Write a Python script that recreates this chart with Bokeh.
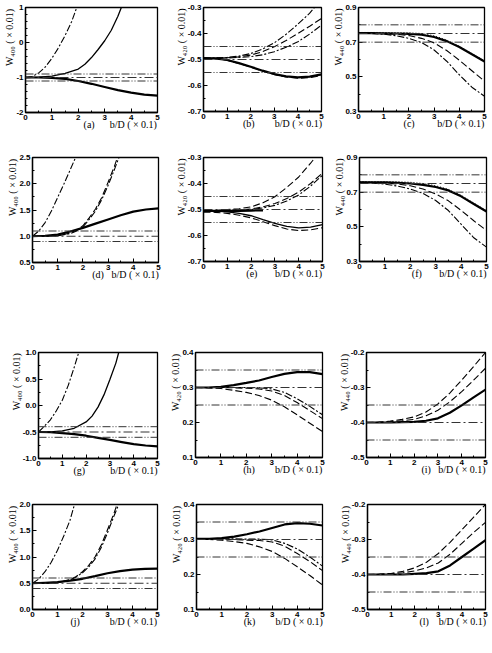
from bokeh.plotting import figure
from bokeh.layouts import column, row
from bokeh.models import FixedTicker, PrintfTickFormatter, Span
from bokeh.embed import file_html
from bokeh.resources import INLINE

# ---------------- data ----------------
X = [0, 0.5, 1, 1.5, 2, 2.5, 3, 3.5, 4, 4.5, 5]
x_ticks = [0, 1, 2, 3, 4, 5]
x_minor = [0.5, 1.5, 2.5, 3.5, 4.5]

# (a) W400
a_yrange = [-2, 1]
a_yticks = [-2, -1, 0, 1]
a_levels = [-0.9, -1.0, -1.1]
a_steep_x = [0, 0.25, 0.5, 0.75, 1.0, 1.25, 1.5, 1.75, 1.94]
a_steep_y = [-1.0, -0.97, -0.87, -0.7, -0.45, -0.15, 0.2, 0.6, 1.0]
a_rise_x = [0, 0.5, 1.0, 1.5, 2.0, 2.25, 2.5, 2.75, 3.0, 3.25, 3.5, 3.63]
a_rise_y = [-1.0, -0.99, -0.96, -0.88, -0.76, -0.62, -0.43, -0.2, 0.05, 0.35, 0.75, 1.0]
a_desc_y = [-1.0, -1.0, -1.01, -1.04, -1.1, -1.18, -1.27, -1.36, -1.43, -1.49, -1.52]

# (b) W420
b_yrange = [-0.7, -0.3]
b_yticks = [-0.7, -0.6, -0.5, -0.4, -0.3]
b_levels = [-0.45, -0.5, -0.55]
b_top_x = [0, 0.5, 1, 1.5, 2, 2.5, 3, 3.5, 4, 4.5, 4.7]
b_top_y = [-0.495, -0.494, -0.492, -0.487, -0.477, -0.46, -0.436, -0.403, -0.364, -0.322, -0.3]
b_mid_y = [-0.495, -0.495, -0.493, -0.49, -0.483, -0.47, -0.451, -0.427, -0.4, -0.372, -0.342]
b_low_y = [-0.495, -0.495, -0.494, -0.492, -0.489, -0.482, -0.47, -0.453, -0.432, -0.402, -0.368]
b_desc_y = [-0.495, -0.496, -0.502, -0.514, -0.528, -0.543, -0.556, -0.565, -0.569, -0.566, -0.557]
b_desc2_y = [-0.495, -0.497, -0.503, -0.515, -0.529, -0.545, -0.558, -0.567, -0.572, -0.57, -0.562]

# (c) W440
c_yrange = [0.3, 0.9]
c_yticks = [0.3, 0.5, 0.7, 0.9]
c_levels = [0.8, 0.75, 0.7]
c_thick_y = [0.752, 0.752, 0.751, 0.75, 0.748, 0.743, 0.73, 0.706, 0.672, 0.63, 0.588]
c_dot_y = [0.756, 0.756, 0.756, 0.755, 0.754, 0.75, 0.737, 0.712, 0.677, 0.634, 0.592]
c_mid_y = [0.752, 0.751, 0.749, 0.745, 0.738, 0.722, 0.696, 0.652, 0.596, 0.535, 0.475]
c_low_y = [0.752, 0.75, 0.746, 0.737, 0.722, 0.698, 0.655, 0.59, 0.512, 0.44, 0.388]

# (d) W400
d_yrange = [0.5, 2.5]
d_yticks = [0.5, 1.0, 1.5, 2.0, 2.5]
d_levels = [1.1, 1.0, 0.9]
d_steep_x = [0, 0.25, 0.5, 0.75, 1.0, 1.25, 1.5, 1.71]
d_steep_y = [1.0, 1.1, 1.26, 1.48, 1.74, 2.0, 2.27, 2.5]
d_p1_x = [0, 0.5, 1.0, 1.5, 1.75, 2.0, 2.25, 2.5, 2.75, 3.0, 3.25, 3.37]
d_p1_y = [1.0, 1.0, 1.01, 1.06, 1.11, 1.2, 1.35, 1.52, 1.74, 2.03, 2.33, 2.5]
d_p2_x = [0, 0.5, 1.0, 1.5, 1.75, 2.0, 2.25, 2.5, 2.75, 3.0, 3.25, 3.43]
d_p2_y = [1.0, 1.0, 1.01, 1.05, 1.1, 1.18, 1.32, 1.48, 1.7, 1.97, 2.27, 2.5]
d_thick_y = [1.0, 1.01, 1.03, 1.09, 1.16, 1.24, 1.32, 1.4, 1.47, 1.51, 1.53]

# (e) W420
e_yrange = [-0.7, -0.3]
e_yticks = [-0.7, -0.6, -0.5, -0.4, -0.3]
e_levels = [-0.45, -0.5, -0.55]
e_top_x = [0, 0.5, 1, 1.5, 2, 2.5, 3, 3.5, 4, 4.5, 4.69]
e_top_y = [-0.505, -0.504, -0.5, -0.497, -0.49, -0.474, -0.451, -0.415, -0.375, -0.322, -0.3]
e_p1_y = [-0.505, -0.504, -0.503, -0.501, -0.498, -0.49, -0.477, -0.458, -0.433, -0.4, -0.36]
e_p2_y = [-0.505, -0.505, -0.504, -0.503, -0.5, -0.494, -0.484, -0.467, -0.444, -0.41, -0.368]
e_flat_x = [0, 0.5, 1, 1.5, 2, 2.5]
e_flat_y = [-0.505, -0.505, -0.505, -0.505, -0.504, -0.503]
e_desc_y = [-0.505, -0.506, -0.509, -0.515, -0.524, -0.539, -0.553, -0.565, -0.571, -0.568, -0.558]
e_desc2_y = [-0.51, -0.511, -0.515, -0.522, -0.532, -0.547, -0.562, -0.575, -0.581, -0.578, -0.57]

# (f) W440
f_yrange = [0.3, 0.9]
f_yticks = [0.3, 0.5, 0.7, 0.9]
f_levels = [0.8, 0.75, 0.7]
f_thick_y = [0.757, 0.757, 0.756, 0.754, 0.75, 0.742, 0.73, 0.71, 0.676, 0.632, 0.588]
f_dot_y = [0.761, 0.761, 0.761, 0.76, 0.757, 0.75, 0.737, 0.716, 0.682, 0.637, 0.593]
f_mid_y = [0.757, 0.756, 0.753, 0.747, 0.737, 0.718, 0.69, 0.65, 0.595, 0.535, 0.479]
f_low_y = [0.757, 0.754, 0.746, 0.735, 0.718, 0.693, 0.652, 0.594, 0.515, 0.437, 0.383]

# (g) W400
g_yrange = [-1.0, 1.0]
g_yticks = [-1.0, -0.5, 0.0, 0.5, 1.0]
g_levels = [-0.4, -0.5, -0.6]
g_steep_x = [0, 0.25, 0.5, 0.75, 1.0, 1.25, 1.5, 1.69]
g_steep_y = [-0.5, -0.39, -0.27, -0.1, 0.1, 0.38, 0.72, 1.0]
g_rise_x = [0, 0.5, 1.0, 1.5, 2.0, 2.25, 2.5, 2.75, 3.0, 3.25, 3.37]
g_rise_y = [-0.5, -0.5, -0.48, -0.43, -0.31, -0.2, -0.03, 0.2, 0.49, 0.8, 1.0]
g_desc_y = [-0.5, -0.505, -0.52, -0.54, -0.57, -0.61, -0.65, -0.69, -0.73, -0.755, -0.77]

# (h) W420
h_yrange = [0.1, 0.4]
h_yticks = [0.1, 0.2, 0.3, 0.4]
h_levels = [0.35, 0.3, 0.25]
h_thick_y = [0.3, 0.3, 0.302, 0.307, 0.313, 0.32, 0.33, 0.339, 0.344, 0.344, 0.338]
h_top_y = [0.3, 0.3, 0.3, 0.3, 0.3, 0.299, 0.296, 0.286, 0.268, 0.246, 0.222]
h_mid_y = [0.3, 0.3, 0.3, 0.299, 0.298, 0.296, 0.29, 0.277, 0.257, 0.234, 0.211]
h_low_y = [0.3, 0.299, 0.297, 0.292, 0.286, 0.277, 0.264, 0.245, 0.222, 0.198, 0.174]

# (i) W440
i_yrange = [-0.5, -0.2]
i_yticks = [-0.5, -0.4, -0.3, -0.2]
i_levels = [-0.35, -0.4, -0.45]
i_top_y = [-0.4, -0.399, -0.396, -0.391, -0.384, -0.37, -0.347, -0.316, -0.279, -0.24, -0.2]
i_mid_y = [-0.4, -0.4, -0.398, -0.395, -0.391, -0.381, -0.365, -0.341, -0.312, -0.279, -0.245]
i_thick_y = [-0.4, -0.4, -0.4, -0.399, -0.398, -0.395, -0.388, -0.372, -0.351, -0.328, -0.306]

# (j) W400
j_yrange = [0.0, 2.0]
j_yticks = [0.0, 0.5, 1.0, 1.5, 2.0]
j_levels = [0.6, 0.5, 0.4]
j_steep_x = [0, 0.25, 0.5, 0.75, 1.0, 1.25, 1.5, 1.68]
j_steep_y = [0.5, 0.58, 0.72, 0.9, 1.13, 1.4, 1.7, 2.0]
j_p1_x = [0, 0.5, 1.0, 1.5, 1.75, 2.0, 2.25, 2.5, 2.75, 3.0, 3.25, 3.38]
j_p1_y = [0.5, 0.5, 0.51, 0.57, 0.63, 0.72, 0.84, 1.0, 1.23, 1.52, 1.82, 2.0]
j_p2_x = [0, 0.5, 1.0, 1.5, 1.75, 2.0, 2.25, 2.5, 2.75, 3.0, 3.25, 3.45]
j_p2_y = [0.5, 0.5, 0.51, 0.56, 0.62, 0.7, 0.81, 0.96, 1.18, 1.46, 1.77, 2.0]
j_thick_y = [0.5, 0.51, 0.52, 0.55, 0.585, 0.635, 0.69, 0.73, 0.76, 0.775, 0.78]

# (k) W420
k_yrange = [0.1, 0.4]
k_yticks = [0.1, 0.2, 0.3, 0.4]
k_levels = [0.35, 0.3, 0.25]
k_thick_y = [0.302, 0.302, 0.304, 0.308, 0.315, 0.323, 0.333, 0.343, 0.347, 0.345, 0.34]
k_top_y = [0.302, 0.302, 0.302, 0.302, 0.301, 0.301, 0.299, 0.289, 0.273, 0.25, 0.224]
k_mid_y = [0.302, 0.302, 0.301, 0.3, 0.298, 0.297, 0.293, 0.281, 0.26, 0.237, 0.211]
k_low_y = [0.302, 0.3, 0.298, 0.294, 0.289, 0.279, 0.266, 0.246, 0.222, 0.197, 0.17]

# (l) W440
l_yrange = [-0.5, -0.2]
l_yticks = [-0.5, -0.4, -0.3, -0.2]
l_levels = [-0.35, -0.4, -0.45]
l_top_y = [-0.4, -0.399, -0.397, -0.391, -0.381, -0.365, -0.34, -0.308, -0.272, -0.236, -0.2]
l_mid_y = [-0.4, -0.4, -0.398, -0.395, -0.39, -0.381, -0.367, -0.342, -0.311, -0.28, -0.251]
l_thick_y = [-0.4, -0.4, -0.4, -0.4, -0.398, -0.396, -0.391, -0.374, -0.35, -0.326, -0.302]

# ---------------- styles ----------------
STY = {
    "thick": dict(line_width=2.2),
    "solid": dict(line_width=1.3),
    "dash": dict(line_width=1.1, line_dash="7 3"),
    "dashdot": dict(line_width=1.1, line_dash="7 2 2 2"),
    "dot": dict(line_width=1.0, line_dash="1 2"),
}
LEVEL_DASH = ["8 2 1 2 1 2", "9 3 2 3", "8 2 1 2 1 2"]

SERIF = "Liberation Serif"
SANS = "Liberation Sans"
NBSP = "\u00a0"

cols = [(0, 165), (165, 330), (330, 492)]
rows_ = [(0, 145), (145, 295), (295, 485), (485, 653)]

panels = [
    dict(tag="(a)", sub="\u2084\u2080\u2080", yr=a_yrange, yt=a_yticks, fmt="%d", lv=a_levels,
         curves=[(a_steep_x, a_steep_y, "dashdot"), (a_rise_x, a_rise_y, "solid"), (X, a_desc_y, "thick")],
         frame=(25, 7, 132, 105), cell=(0, 0), tagx=88),
    dict(tag="(b)", sub="\u2084\u2082\u2080", yr=b_yrange, yt=b_yticks, fmt="%.1f", lv=b_levels,
         curves=[(b_top_x, b_top_y, "dashdot"), (X, b_mid_y, "dash"), (X, b_low_y, "dashdot"),
                 (X, b_desc2_y, "dash"), (X, b_desc_y, "thick")],
         frame=(203, 7, 118, 104), cell=(0, 1), tagx=248),
    dict(tag="(c)", sub="\u2084\u2084\u2080", yr=c_yrange, yt=c_yticks, fmt="%.1f", lv=c_levels,
         curves=[(X, c_dot_y, "dot"), (X, c_thick_y, "thick"), (X, c_mid_y, "dash"), (X, c_low_y, "dashdot")],
         frame=(358, 6, 126, 104), cell=(0, 2), tagx=408),
    dict(tag="(d)", sub="\u2084\u2080\u2080", yr=d_yrange, yt=d_yticks, fmt="%.1f", lv=d_levels,
         curves=[(d_steep_x, d_steep_y, "dashdot"), (d_p1_x, d_p1_y, "dash"), (d_p2_x, d_p2_y, "dashdot"),
                 (X, d_thick_y, "thick")],
         frame=(32, 157, 126, 105), cell=(1, 0), tagx=97),
    dict(tag="(e)", sub="\u2084\u2082\u2080", yr=e_yrange, yt=e_yticks, fmt="%.1f", lv=e_levels,
         curves=[(e_top_x, e_top_y, "dash"), (X, e_p1_y, "dash"), (X, e_p2_y, "dashdot"),
                 (e_flat_x, e_flat_y, "thick"), (X, e_desc_y, "solid"), (X, e_desc2_y, "dash")],
         frame=(203, 157, 119, 104), cell=(1, 1), tagx=252),
    dict(tag="(f)", sub="\u2084\u2084\u2080", yr=f_yrange, yt=f_yticks, fmt="%.1f", lv=f_levels,
         curves=[(X, f_dot_y, "dot"), (X, f_thick_y, "thick"), (X, f_mid_y, "dash"), (X, f_low_y, "dashdot")],
         frame=(359, 157, 127, 104), cell=(1, 2), tagx=416),
    dict(tag="(g)", sub="\u2084\u2080\u2080", yr=g_yrange, yt=g_yticks, fmt="%.1f", lv=g_levels,
         curves=[(g_steep_x, g_steep_y, "dashdot"), (g_rise_x, g_rise_y, "solid"), (X, g_desc_y, "thick")],
         frame=(38, 352, 119, 106), cell=(2, 0), tagx=80),
    dict(tag="(h)", sub="\u2084\u2082\u2080", yr=h_yrange, yt=h_yticks, fmt="%.1f", lv=h_levels,
         curves=[(X, h_thick_y, "thick"), (X, h_top_y, "dashdot"), (X, h_mid_y, "dash"), (X, h_low_y, "dash")],
         frame=(195, 351, 127, 105), cell=(2, 1), tagx=248),
    dict(tag="(i)", sub="\u2084\u2084\u2080", yr=i_yrange, yt=i_yticks, fmt="%.1f", lv=i_levels,
         curves=[(X, i_top_y, "dash"), (X, i_mid_y, "dash"), (X, i_thick_y, "thick")],
         frame=(366, 349, 119, 105), cell=(2, 2), tagx=425),
    dict(tag="(j)", sub="\u2084\u2080\u2080", yr=j_yrange, yt=j_yticks, fmt="%.1f", lv=j_levels,
         curves=[(j_steep_x, j_steep_y, "dashdot"), (j_p1_x, j_p1_y, "dash"), (j_p2_x, j_p2_y, "dashdot"),
                 (X, j_thick_y, "thick")],
         frame=(32, 504, 125, 105), cell=(3, 0), tagx=75),
    dict(tag="(k)", sub="\u2084\u2082\u2080", yr=k_yrange, yt=k_yticks, fmt="%.1f", lv=k_levels,
         curves=[(X, k_thick_y, "thick"), (X, k_top_y, "dashdot"), (X, k_mid_y, "dash"), (X, k_low_y, "dash")],
         frame=(196, 502, 126, 105), cell=(3, 1), tagx=249),
    dict(tag="(l)", sub="\u2084\u2084\u2080", yr=l_yrange, yt=l_yticks, fmt="%.1f", lv=l_levels,
         curves=[(X, l_top_y, "dash"), (X, l_mid_y, "dash"), (X, l_thick_y, "thick")],
         frame=(367, 501, 118, 105), cell=(3, 2), tagx=425),
]


def minor_between(ticks, n):
    out = []
    for a, b in zip(ticks[:-1], ticks[1:]):
        step = (b - a) / n
        out += [a + step * k for k in range(1, n)]
    return out


# approximate text metrics (10px Liberation Serif)
BD_TEXT = "b/D ( \u00d7 0.1)"
BD_W = 47.3
SP_W = 2.5
LETTER_W = {"a": 4.44, "b": 5.0, "c": 4.44, "d": 5.0, "e": 4.44, "f": 3.33,
            "g": 5.0, "h": 5.0, "i": 2.78, "j": 2.78, "k": 5.0, "l": 2.78}
YLAB_W = 59.0


def make(pc):
    fx, fy, fw, fh = pc["frame"]
    r, c = pc["cell"]
    cx0, cx1 = cols[c]
    ry0, ry1 = rows_[r]
    y0, y1 = pc["yr"]
    p = figure(frame_width=fw, frame_height=fh,
               min_border_left=fx - cx0, min_border_right=cx1 - fx - fw,
               min_border_top=fy - ry0, min_border_bottom=ry1 - fy - fh,
               x_range=(0, 5), y_range=(y0, y1),
               output_backend="svg", toolbar_location=None)
    p.grid.visible = False
    p.outline_line_color = "black"
    p.outline_line_width = 1.3
    p.background_fill_color = "white"
    p.border_fill_color = "white"

    p.xaxis.ticker = FixedTicker(ticks=x_ticks, minor_ticks=x_minor)
    yt = pc["yt"]
    ndiv = 5 if pc["fmt"] == "%d" else 2
    p.yaxis.ticker = FixedTicker(ticks=yt, minor_ticks=minor_between(yt, ndiv))
    p.yaxis.formatter = PrintfTickFormatter(format=pc["fmt"])
    p.xaxis.formatter = PrintfTickFormatter(format="%d")
    for ax in (p.xaxis, p.yaxis):
        ax.major_tick_in = 4
        ax.major_tick_out = 0
        ax.minor_tick_in = 2
        ax.minor_tick_out = 0
        ax.axis_line_width = 1.3
        ax.major_label_text_font = SANS
        ax.major_label_text_font_size = "8px"
        ax.major_label_text_font_style = "bold"
        ax.major_label_text_color = "black"
        ax.major_label_standoff = 2
        ax.axis_label_text_font = SERIF
        ax.axis_label_text_font_size = "10px"
        ax.axis_label_text_font_style = "normal"
        ax.axis_label_text_color = "black"

    # y label: top-aligned along the frame (padding at its start = bottom)
    ypad = max(0, int(round((fh - YLAB_W) / SP_W)))
    p.yaxis.axis_label = NBSP * ypad + "W" + pc["sub"] + " ( \u00d7 0.01)"
    p.yaxis.axis_label_standoff = -2

    # x label: panel tag and b/D caption on one centred line, padded so that
    # the tag sits under the frame and the caption ends at the right edge
    tag_w = 0.333 * 2 * 10 + LETTER_W[pc["tag"][1]]
    k = max(0, int(round((pc["tagx"] - tag_w / 2 - fx) / SP_W)))
    n = max(1, int(round((fw - k * SP_W - tag_w - BD_W) / SP_W)))
    p.xaxis.axis_label = NBSP * k + pc["tag"] + NBSP * n + BD_TEXT
    p.xaxis.axis_label_standoff = -4

    for v, dash in zip(pc["lv"], LEVEL_DASH):
        p.add_layout(Span(location=v, dimension="width", line_color="#333333",
                          line_width=1.0, line_dash=dash))
    for xs, ys, st in pc["curves"]:
        p.line(xs, ys, line_color="black", **STY[st])
    return p


figs = [make(pc) for pc in panels]
layout = column(row(*figs[0:3]), row(*figs[3:6]), row(*figs[6:9]), row(*figs[9:12]))

open("out.html", "w").write(file_html(layout, INLINE))
